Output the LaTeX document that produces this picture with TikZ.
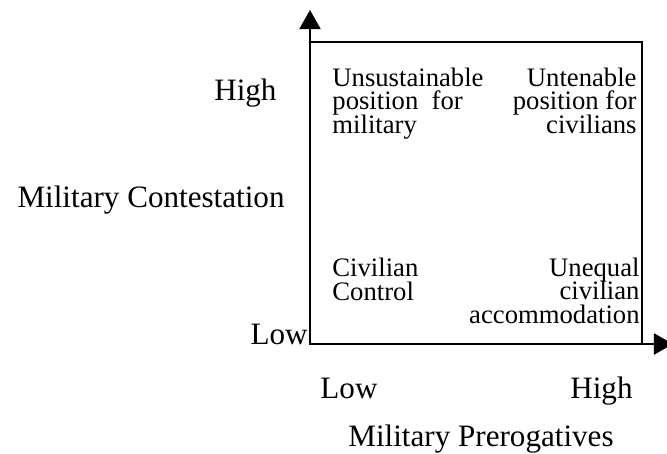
\documentclass[tikz,border=0pt]{standalone}
\usepackage{fontspec}
\setmainfont{Liberation Serif}
\usepackage{tikz}
\usetikzlibrary{arrows.meta}
\newcommand{\tightlines}{\setlength{\lineskiplimit}{-5pt}}

\begin{document}
\begin{tikzpicture}[x=0.45pt,y=0.45pt,
		axislabel/.style={inner sep=0pt,font=\rmfamily\fontsize{14}{16}\selectfont},
		celltext/.style={inner sep=0pt,font=\rmfamily\fontsize{12}{10.5}\selectfont\tightlines}]
		\useasboundingbox (0,0) rectangle (667,453);
		\coordinate (origin) at (310,109);
		\coordinate (corner) at (642,411);
		\coordinate (ytip) at (310,443);
		\coordinate (xtip) at (673,109);
		% quadrant box and axes
		\draw[line width=0.9pt] (origin) rectangle (corner);
		\draw[line width=0.9pt,-{Triangle[length=8.6pt,width=9.5pt]}] (origin) -- (ytip);
		\draw[line width=0.9pt,-{Triangle[length=8.6pt,width=9.5pt]}] (origin) -- (xtip);
		% axis labels
		\node[axislabel,anchor=base east] (yhigh) at (277,353) {High};
		\node[axislabel,anchor=base east] (ylow) at (308,109) {Low};
		\node[axislabel,anchor=base east] (ytitle) at (285,246) {Military Contestation};
		\node[axislabel,anchor=base west] (xlow) at (320,55) {Low};
		\node[axislabel,anchor=base east] (xhigh) at (633,55) {High};
		\node[axislabel,anchor=base] (xtitle) at (481,7) {Military Prerogatives};
		% quadrants (base = last line)
		\node[celltext,align=left,anchor=base west] (unsus) at (332,320) {Unsustainable\\position~ for\\military};
		\node[celltext,align=right,anchor=base east] (unten) at (637,320) {Untenable\\position for\\civilians};
		\node[celltext,align=left,anchor=base west] (control) at (332,153) {Civilian\\Control};
		\node[celltext,align=right,anchor=base east] (accom) at (640,130) {Unequal\\civilian\\accommodation};
\end{tikzpicture}
\end{document}
